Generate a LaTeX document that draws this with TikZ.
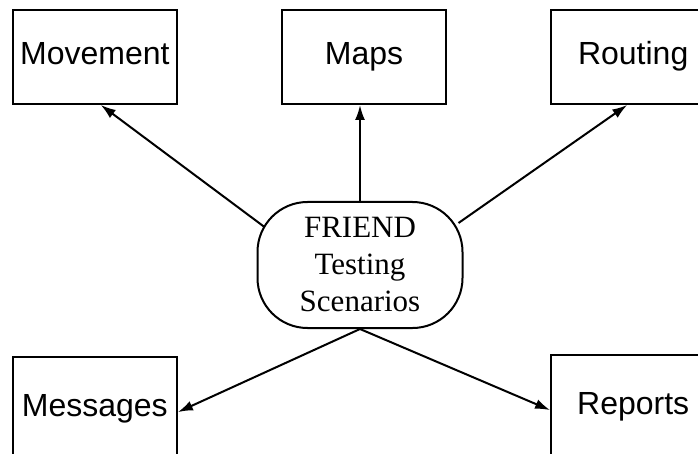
\documentclass[tikz,border=0pt]{standalone}
\usepackage{fontspec}
\setmainfont{Liberation Serif}
\newfontfamily\boxfont{Liberation Sans}
\usepackage{tikz}
\usetikzlibrary{arrows.meta,positioning}

\begin{document}
\begin{tikzpicture}[
  x=1pt, y=-1pt,
  node distance=96pt and 103pt,
  topic/.style={draw, line width=2.2pt, minimum width=164pt, minimum height=94pt,
                inner sep=0pt, text height=23pt, text depth=7pt,
                font=\boxfont\fontsize{32}{38}\selectfont},
  low/.style={topic, minimum height=102pt},
  hub/.style={draw, line width=2pt, rounded corners=50pt, minimum width=205pt,
              minimum height=126pt, align=center, inner sep=0pt,
              font=\fontsize{31}{37}\selectfont},
  arr/.style={-{Latex[length=15pt,width=10pt]}, line width=2pt},
]
  \useasboundingbox (0,0) rectangle (698,454);
  \clip (0,0) rectangle (698,454);
  \node[hub] (scen) at (360,265) {FRIEND\\Testing\\Scenarios};
  \node[topic, above=96pt of scen, xshift=4pt] (maps) {Maps};
  \node[topic, left=of maps]  (move) {Movement};
  \node[topic, right=of maps] (rout) {Routing};
  \node[low, below=251pt of move] (mess) {Messages};
  \node[low, below=249pt of rout] (rep) {Reports};
  \draw[arr] ([xshift=8pt,yshift=38pt]scen.west) -- ([xshift=6pt]move.south);
  \draw[arr] (scen.north) -- (scen.north |- maps.south);
  \draw[arr] ([xshift=-5pt,yshift=42pt]scen.east) -- ([xshift=-6pt]rout.south);
  \draw[arr] (scen.south) -- ([yshift=-4pt]mess.east);
  \draw[arr] (scen.south) -- ([yshift=-4pt]rep.west);
\end{tikzpicture}
\end{document}
